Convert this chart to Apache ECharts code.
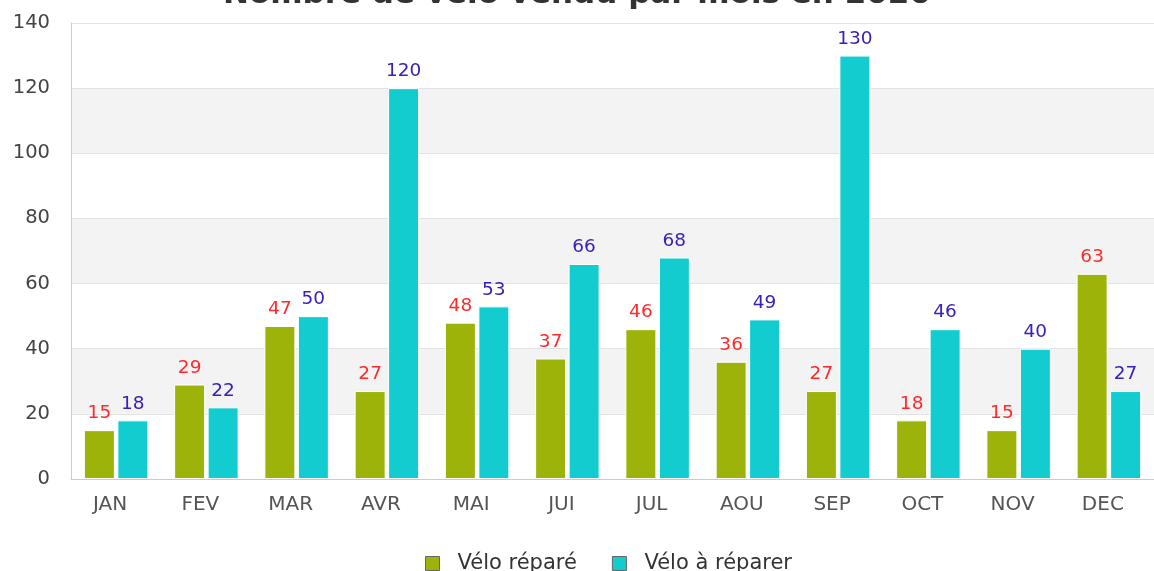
<!DOCTYPE html>
<html>
<head>
<meta charset="utf-8">
<script src="https://cdn.jsdelivr.net/npm/echarts@6/dist/echarts.min.js"></script>
<style>
  html, body { margin: 0; padding: 0; background: #fff; }
  #chart { width: 1154px; height: 571px; }
</style>
</head>
<body>
<div id="chart"></div>
<script>
// données
const mois = ['JAN', 'FEV', 'MAR', 'AVR', 'MAI', 'JUI', 'JUL', 'AOU', 'SEP', 'OCT', 'NOV', 'DEC']
const veloRepare = [15, 29, 47, 27, 48, 37, 46, 36, 27, 18, 15, 63]
const veloAReparer = [18, 22, 50, 120, 53, 66, 68, 49, 130, 46, 40, 27]

const chart = echarts.init(document.getElementById('chart'))

const fontFamily = 'DejaVu Sans'

chart.setOption({
  animation: false,
  title: {
    text: 'Nombre de vélo vendu par mois en 2020',
    left: 'center',
    top: -26,
    textStyle: { fontFamily, fontSize: 31, fontWeight: 'bold', color: '#333' }
  },
  legend: {
    top: 548,
    left: 420,
    icon: 'rect',
    itemWidth: 14,
    itemHeight: 14,
    itemGap: 35,
    itemStyle: { borderColor: '#666', borderWidth: 1 },
    textStyle: { fontFamily, fontSize: 21, color: '#333', padding: [0, 0, 0, 13] },
    data: ['Vélo réparé', 'Vélo à réparer']
  },
  grid: { left: 71, top: 23, bottom: 92, width: 1097, containLabel: false },
  xAxis: {
    type: 'category',
    data: mois,
    axisLine: { lineStyle: { color: '#ccc' } },
    axisTick: { show: false },
    axisLabel: { fontFamily, fontSize: 20, color: '#555', margin: 16, padding: [0, 12, 0, 0] }
  },
  yAxis: {
    type: 'value',
    min: 0,
    max: 140,
    interval: 20,
    axisLine: { show: true, lineStyle: { color: '#ccc' } },
    axisLabel: { fontFamily, fontSize: 19.5, color: '#444', margin: 21 },
    splitLine: { lineStyle: { color: '#e3e3e3' } },
    splitArea: { show: true, areaStyle: { color: ['#fff', '#f3f3f3'] } }
  },
  series: [
    {
      name: 'Vélo réparé',
      type: 'bar',
      data: veloRepare,
      barWidth: 31,
      barGap: '8%',
      itemStyle: { color: '#9db309', borderColor: '#fff', borderWidth: 1 },
      label: { show: true, position: 'top', distance: 7, fontFamily, fontSize: 18.5, color: '#ff2a2a' }
    },
    {
      name: 'Vélo à réparer',
      type: 'bar',
      data: veloAReparer,
      barWidth: 31,
      itemStyle: { color: '#12cccf', borderColor: '#fff', borderWidth: 1 },
      label: { show: true, position: 'top', distance: 7, fontFamily, fontSize: 18.5, color: '#3a20bb' }
    }
  ]
})
</script>
</body>
</html>
